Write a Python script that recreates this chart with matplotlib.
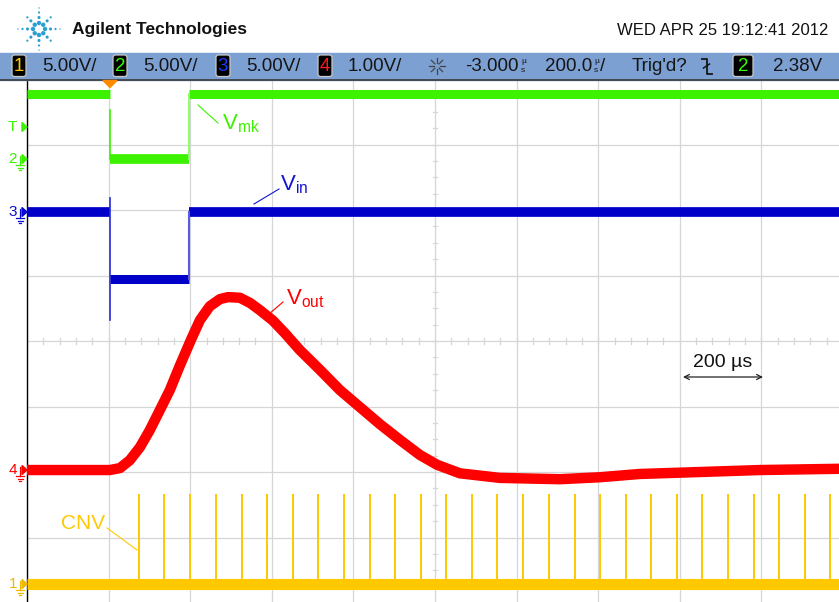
import matplotlib
matplotlib.use('Agg')
import matplotlib.pyplot as plt
from matplotlib import font_manager
from matplotlib.patches import Rectangle, FancyBboxPatch, Polygon
import numpy as np

# ---------------- data (time in µs, level in screen divisions 0..8) ----------
x_range = [0, 2000]            # 10 div x 200 µs/div
y_range = [0, 8]

vmk_levels = [7.77, 6.78]      # high, low (ch2, green)
vmk_edges = [203, 398]
vin_levels = [5.97, 4.95]      # high, low (ch3, blue)
vin_edges = [203, 398]
vin_spike = [4.32, 6.18]

vout_t = [0, 203, 228, 252, 277, 301, 326, 350, 375, 402, 424, 448, 473, 493,
          522, 547, 571, 603, 632, 669, 718, 767, 816, 865, 914, 963, 1005,
          1061, 1159, 1306, 1404, 1502, 1650, 1797, 2000]
vout_v = [2.03, 2.03, 2.06, 2.18, 2.38, 2.64, 2.95, 3.25, 3.63, 4.02, 4.32,
          4.53, 4.64, 4.67, 4.66, 4.58, 4.47, 4.31, 4.12, 3.86, 3.56, 3.25,
          2.99, 2.73, 2.49, 2.26, 2.11, 1.98, 1.91, 1.89, 1.92, 1.97, 2.00,
          2.03, 2.05]

cnv_base = 0.29
cnv_peak = 1.66
cnv_t = [275, 337, 400, 463, 526, 588, 651, 714, 777, 840, 902, 965, 1028,
         1091, 1153, 1216, 1279, 1342, 1404, 1467, 1530, 1593, 1655, 1718,
         1781, 1844, 1906, 1969]

channel_ids = ['1', '2', '3', '4']
channel_scales = ['5.00V/', '5.00V/', '5.00V/', '1.00V/']
time_offset = '-3.000'
time_scale = '200.0'
trig_text = "Trig'd?"
trig_level = '2.38V'
date_text = 'WED APR 25 19:12:41 2012'
brand_text = 'Agilent Technologies'

# ---------------- style ------------------------------------------------------
plt.rcParams['font.family'] = ['Liberation Sans', 'DejaVu Sans']

YEL = '#ffc800'
GRN = '#3cf200'
BLU = '#0000c8'
RED = '#ff0000'
ch_colors = [YEL, '#33ff00', '#1a3cff', '#ff1a1a']
GRID = '#d6d6d6'

fig = plt.figure(figsize=(8.39, 6.02), dpi=100)
fig.patch.set_facecolor('white')

ax = fig.add_axes([27 / 839, (602 - 603) / 602, 816 / 839, 524 / 602])
ax.set_xlim(*x_range)
ax.set_ylim(*y_range)
ax.set_xticks([])
ax.set_yticks([])
ax.spines['right'].set_visible(False)
ax.spines['left'].set_color('black')
ax.spines['left'].set_linewidth(1.0)
ax.spines['top'].set_color('#404040')
ax.spines['top'].set_linewidth(1.2)
ax.spines['bottom'].set_color('#202020')

# graticule
for t in np.arange(x_range[0], x_range[1] + 1, 200):
    ax.axvline(t, color=GRID, lw=0.9, zorder=0)
for d in np.arange(y_range[0], y_range[1] + 1, 1):
    ax.axhline(d, color=GRID, lw=0.9, zorder=0)
for t in np.arange(0, 2000, 40):
    ax.plot([t, t], [4 - 0.04, 4 + 0.04], color=GRID, lw=0.9, zorder=0)
for d in np.arange(0, 8, 0.25):
    ax.plot([1000 - 6, 1000 + 6], [d, d], color=GRID, lw=0.9, zorder=0)

# ch2 (green) Vmk
hi, lo = vmk_levels
e0, e1 = vmk_edges
ax.plot([x_range[0], e0], [hi, hi], color=GRN, lw=6.5, solid_capstyle='butt', zorder=3)
ax.plot([e0, e1], [lo, lo], color=GRN, lw=7, solid_capstyle='butt', zorder=3)
ax.plot([e1, x_range[1]], [hi, hi], color=GRN, lw=6.5, solid_capstyle='butt', zorder=3)
ax.plot([e0, e0], [hi - 0.25, lo], color=GRN, lw=1.2, zorder=3)
ax.plot([e1, e1], [lo, hi], color='#8cff6a', lw=1.5, zorder=3)

# ch3 (blue) Vin
hi, lo = vin_levels
e0, e1 = vin_edges
ax.plot([x_range[0], e0], [hi, hi], color=BLU, lw=7, solid_capstyle='butt', zorder=3)
ax.plot([e0, e1], [lo, lo], color=BLU, lw=6.5, solid_capstyle='butt', zorder=3)
ax.plot([e1, x_range[1]], [hi, hi], color=BLU, lw=7, solid_capstyle='butt', zorder=3)
ax.plot([e0, e0], vin_spike, color='#2a2ad8', lw=1.2, zorder=3)
ax.plot([e1, e1], [lo, hi], color='#5a5ae0', lw=1.5, zorder=3)

# ch4 (red) Vout
ax.plot(vout_t, vout_v, color=RED, lw=7.5, solid_capstyle='butt',
        solid_joinstyle='round', zorder=3)

# ch1 (yellow) CNV
ax.plot(x_range, [cnv_base, cnv_base], color=YEL, lw=8, solid_capstyle='butt', zorder=3)
ax.vlines(cnv_t, cnv_base, cnv_peak, color=YEL, lw=1.4, zorder=3)

# ---------------- overlay in pixel coordinates ---------------------------
ov = fig.add_axes([0, 0, 1, 1], zorder=5)
ov.set_xlim(0, 839)
ov.set_ylim(602, 0)
ov.set_axis_off()

# logo
cx, cy = 39, 29
logo_c = '#2b9fcf'
for k in range(8):
    a = np.pi / 4 * k
    for r, s in [(6, 10), (11.5, 5), (16.5, 2.5), (21, 1.0)]:
        if r == 21 and k % 2 == 1:
            continue
        ov.scatter(cx + r * np.cos(a), cy + r * np.sin(a), s=s, color=logo_c,
                   edgecolors='none')
ov.text(72, 34, brand_text, fontsize=12.5, fontweight='bold',
        color='#111111', va='baseline', ha='left')
ov.text(828, 35, date_text, fontsize=12, color='#111111', va='baseline', ha='right')

# status bar
ov.add_patch(Rectangle((0, 53), 839, 26.5, color='#7da0d2', zorder=1))
ov.plot([0, 839], [79.5, 79.5], color='#3a3a3a', lw=1.2, zorder=2)

def chan_box(x0, w, label, col):
    ov.add_patch(FancyBboxPatch((x0, 55), w, 21.5,
                                boxstyle='round,pad=0,rounding_size=2.5',
                                fc='black', ec='#c8c8c8', lw=0.9, zorder=3))
    ov.text(x0 + w / 2, 66.5, label, color=col, fontsize=13.5, ha='center',
            va='center', zorder=4)

box_x = [12, 113, 216, 318]
txt_x = [42, 143, 246, 348]
for i in range(4):
    chan_box(box_x[i], 14, channel_ids[i], ch_colors[i])
    ov.text(txt_x[i], 66.5, channel_scales[i], color='#151515', fontsize=13.5,
            ha='left', va='center', zorder=4)

# run/stop sparkle icon
for k in range(8):
    a = np.pi / 4 * k
    ov.plot([437 + 3 * np.cos(a), 437 + 8 * np.cos(a)],
            [66 + 3 * np.sin(a), 66 + 8 * np.sin(a)], color='#444444', lw=0.9, zorder=4)
ov.text(465, 66.5, time_offset, color='#151515', fontsize=13.5, ha='left', va='center', zorder=4)
ov.text(521, 61.5, 'µ', color='#151515', fontsize=6, ha='left', va='center', zorder=4)
ov.text(521, 71, 's', color='#151515', fontsize=6, ha='left', va='center', zorder=4)
ov.text(545, 66.5, time_scale, color='#151515', fontsize=13.5, ha='left', va='center', zorder=4)
ov.text(594, 61.5, 'µ', color='#151515', fontsize=6, ha='left', va='center', zorder=4)
ov.text(594, 71, 's', color='#151515', fontsize=6, ha='left', va='center', zorder=4)
ov.text(600, 66.5, '/', color='#151515', fontsize=13.5, ha='left', va='center', zorder=4)
ov.text(632, 66.5, trig_text, color='#151515', fontsize=13.5, ha='left', va='center', zorder=4)
ov.plot([702, 706.5, 706.5, 711.5], [58.5, 58.5, 74, 74], color='#151515', lw=1.3, zorder=4)
ov.plot([703.5, 709.5], [68, 64], color='#151515', lw=1.1, zorder=4)
chan_box(733, 20, '2', '#33ff00')
ov.text(822, 66.5, trig_level, color='#151515', fontsize=13.5, ha='right', va='center', zorder=4)

# trigger position marker
ov.add_patch(Polygon([[103, 80.5], [117, 80.5], [110, 87.5]], closed=True,
                     color='#ff8a00', zorder=6))

# left channel markers
def ground(x, y, col):
    ov.plot([x, x], [y - 3, y + 6], color=col, lw=0.9)
    ov.plot([x - 4, x + 4], [y + 6, y + 6], color=col, lw=0.9)
    ov.plot([x - 2.5, x + 2.5], [y + 8.5, y + 8.5], color=col, lw=0.9)
    ov.plot([x - 1, x + 1], [y + 11, y + 11], color=col, lw=0.9)

def marker(label, y, col, gnd=True):
    ov.text(17, y, label, color=col, fontsize=11, ha='right', va='center')
    ov.add_patch(Polygon([[22, y - 4.5], [22, y + 4.5], [27, y]], closed=True,
                         color=col, zorder=6))
    if gnd:
        ground(20, y, col)

marker('T', 127, GRN, gnd=False)
marker('2', 159, GRN)
marker('3', 212, '#0a0ad0')
marker('4', 470, RED)
marker('1', 584, '#f0b800')

# trace labels with leaders
def label(x, y, main, sub, col, leader):
    ov.plot(leader[0], leader[1], color=col, lw=0.8)
    if sub:
        ov.text(x, y, main + r'$_{\mathregular{' + sub + '}}$', color=col,
                fontsize=16, ha='left', va='baseline')
    else:
        ov.text(x, y, main, color=col, fontsize=15, ha='left', va='baseline')

label(222, 129, 'V', 'mk', GRN, ([198, 218], [105, 123]))
label(280, 190, 'V', 'in', '#1414d2', ([254, 279], [204, 189]))
label(286, 304, 'V', 'out', RED, ([269, 283], [314, 302]))
label(61, 529, 'CNV', None, YEL, ([107, 137], [528, 550]))

# 200 µs scale bar
ov.text(723, 367, '200 µs', color='#111111', fontsize=14, ha='center', va='baseline')
ov.annotate('', xy=(683, 377), xytext=(763, 377),
            arrowprops=dict(arrowstyle='<->', color='#222222', lw=0.9,
                            shrinkA=0, shrinkB=0, mutation_scale=9))

fig.savefig('out.png', dpi=100)
